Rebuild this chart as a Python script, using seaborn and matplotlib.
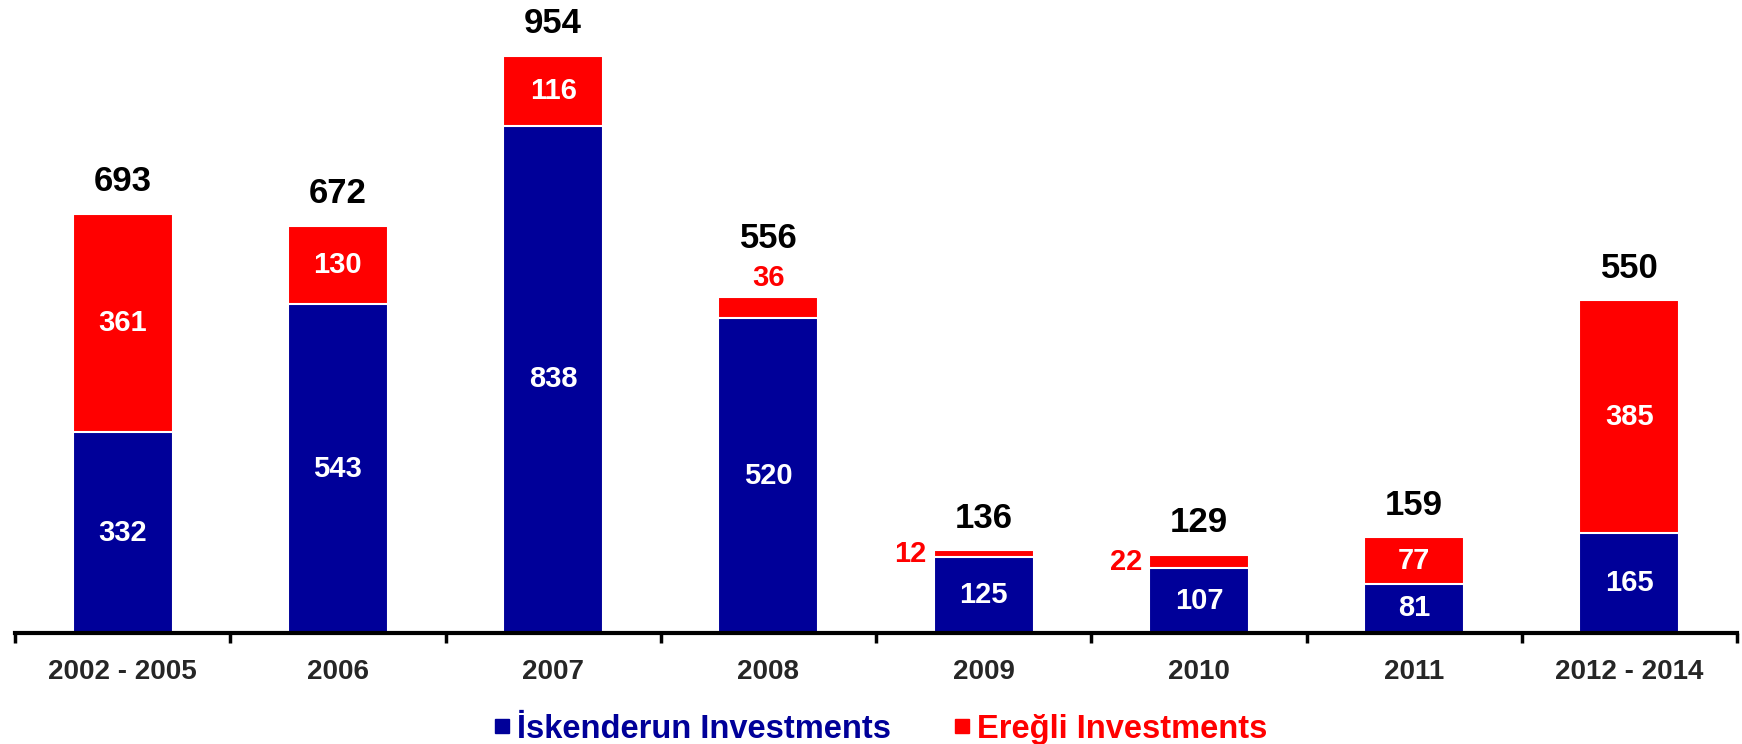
import matplotlib
matplotlib.use("Agg")
import matplotlib.pyplot as plt
import seaborn as sns
import pandas as pd
import numpy as np
from matplotlib.lines import Line2D

# Investment figures per period
periods = ["2002 - 2005", "2006", "2007", "2008", "2009", "2010", "2011", "2012 - 2014"]
iskenderun = [332, 543, 838, 520, 125, 107, 81, 165]
eregli = [361, 130, 116, 36, 12, 22, 77, 385]
totals = [693, 672, 954, 556, 136, 129, 159, 550]
series_names = ["İskenderun Investments", "Ereğli Investments"]

BLUE = "#000099"
RED = "#FF0000"

sns.set_style("white")
plt.rcParams["font.family"] = ["Liberation Sans", "DejaVu Sans"]
plt.rcParams["font.weight"] = "bold"

df = pd.DataFrame({"period": periods, "isk": iskenderun, "ere": eregli})
df["stack"] = df["isk"] + df["ere"]

fig = plt.figure(figsize=(17.42, 7.44), dpi=100)
ax = fig.add_axes([15 / 1742, 111 / 744, 1722 / 1742, 633 / 744])

# Stacked bars: full stack in red, lower part in blue drawn over it
bar_kw = dict(width=0.465, saturation=1, edgecolor="white", linewidth=1.5, ax=ax)
sns.barplot(data=df, x="period", y="stack", color=RED, **bar_kw)
sns.barplot(data=df, x="period", y="isk", color=BLUE, **bar_kw)

ax.set_xlim(-0.5, len(periods) - 0.5)
ax.set_ylim(0, 1046)
ax.set_xlabel("")
ax.set_ylabel("")
ax.set_yticks([])
for side in ("left", "top", "right"):
    ax.spines[side].set_visible(False)
ax.spines["bottom"].set_linewidth(3)
ax.spines["bottom"].set_color("black")

# Tick marks sit on category boundaries; labels are centred under each bar
ax.set_xticks(np.arange(-0.5, len(periods), 1), minor=True)
ax.tick_params(axis="x", which="minor", bottom=True, length=7, width=2.5,
               direction="out", color="black")
ax.tick_params(axis="x", which="major", bottom=True, length=0, pad=19, labelsize=20)
for lbl in ax.get_xticklabels():
    lbl.set_fontweight("bold")

# Small red segments get their label outside the bar
small_label_side = {"2008": "top"}
half_w = 0.465 / 2

for i, p in enumerate(periods):
    b, r, t = iskenderun[i], eregli[i], totals[i]
    ax.text(i, b / 2, str(b), ha="center", va="center", color="white",
            fontsize=21, fontweight="bold")
    total_offset = 23
    if r >= 50:
        ax.text(i, b + r / 2, str(r), ha="center", va="center", color="white",
                fontsize=21, fontweight="bold")
    elif small_label_side.get(p) == "top":
        ax.annotate(str(r), (i, b + r), xytext=(0, 13), textcoords="offset points",
                    ha="center", va="center", color=RED, fontsize=21, fontweight="bold")
        total_offset = 42
    else:
        ax.annotate(str(r), (i - half_w, b + r / 2), xytext=(-5, 0), textcoords="offset points",
                    ha="right", va="center", color=RED, fontsize=21, fontweight="bold")
    ax.annotate(str(t), (i, b + r), xytext=(0, total_offset), textcoords="offset points",
                ha="center", va="center", color="black", fontsize=25, fontweight="bold")

# Legend with coloured labels
handles = [Line2D([], [], marker="s", linestyle="none", markersize=10, color=BLUE),
           Line2D([], [], marker="s", linestyle="none", markersize=10, color=RED)]
leg = fig.legend(handles, series_names, loc="center", bbox_to_anchor=(0.506, 0.02),
                 ncol=2, frameon=False, handlelength=0.4, handletextpad=0.25,
                 columnspacing=2.0,
                 prop={"family": ["Liberation Sans", "DejaVu Sans"],
                       "weight": "bold", "size": 23.5})
for txt, col in zip(leg.get_texts(), [BLUE, RED]):
    txt.set_color(col)

fig.savefig("out.png", dpi=100)
